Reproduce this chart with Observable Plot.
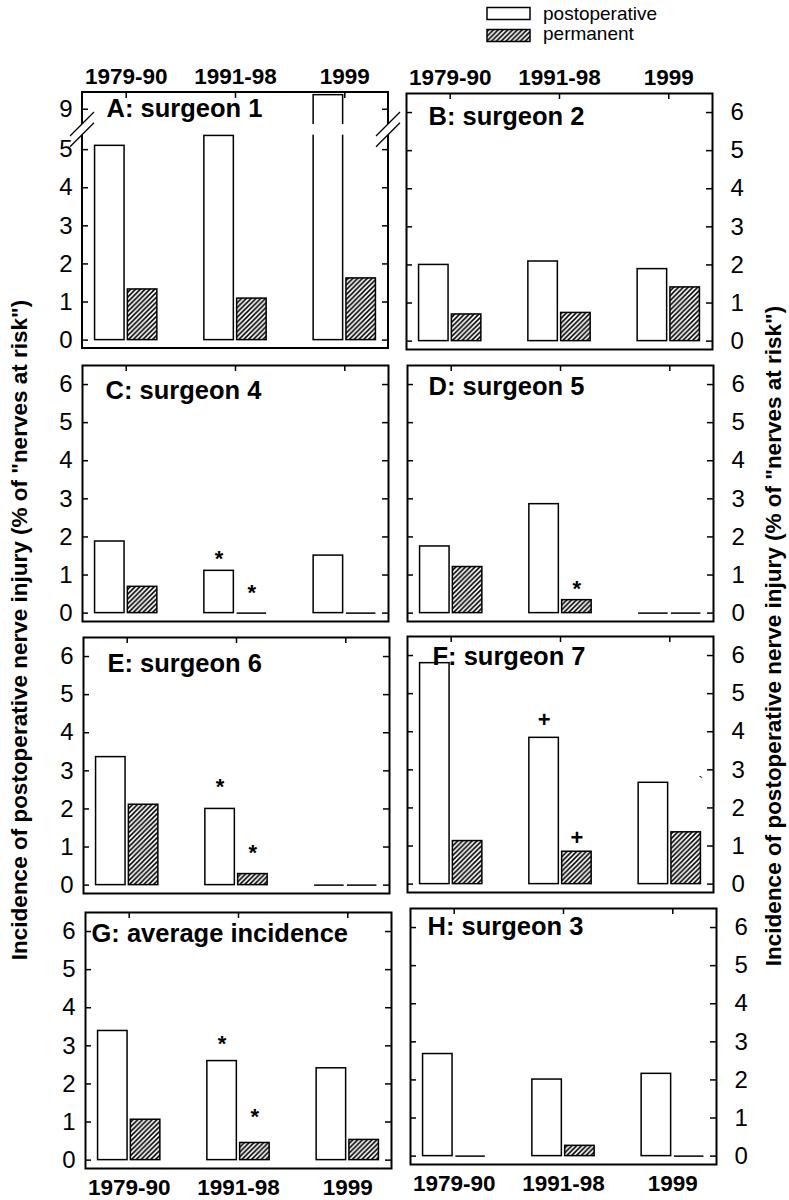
<!DOCTYPE html>
<html><head><meta charset="utf-8">
<script src="https://cdn.jsdelivr.net/npm/d3@7"></script>
<script src="https://cdn.jsdelivr.net/npm/@observablehq/plot@0.6"></script>
<style>
body{margin:0;background:#fff}
#root{position:relative;width:789px;height:1200px;background:#fff;font-family:"Liberation Sans",Arial,Helvetica,sans-serif;overflow:hidden}
.ylab{position:absolute;white-space:nowrap;font-weight:bold;font-size:22.5px;line-height:22px;color:#000;transform:translate(-50%,-50%) rotate(-90deg)}
</style></head>
<body><div id="root"></div>
<script>
// ---- data ----
const periods = ["1979-90", "1991-98", "1999"];
const seriesNames = ["postoperative", "permanent"];
const panelTitles = ["A: surgeon 1", "B: surgeon 2", "C: surgeon 4", "D: surgeon 5",
  "E: surgeon 6", "F: surgeon 7", "G: average incidence", "H: surgeon 3"];
const postoperative = [
  [5.10, 5.36, 9.37],
  [2.00, 2.09, 1.89],
  [1.88, 1.11, 1.51],
  [1.75, 2.86, 0],
  [3.36, 2.00, 0],
  [5.80, 3.84, 2.66],
  [3.39, 2.60, 2.41],
  [2.68, 2.01, 2.16]
];
const permanent = [
  [1.33, 1.09, 1.62],
  [0.70, 0.74, 1.41],
  [0.69, 0, 0],
  [1.21, 0.34, 0],
  [2.11, 0.29, 0],
  [1.13, 0.85, 1.36],
  [1.06, 0.45, 0.53],
  [0, 0.27, 0]
];
const yTicks = [0, 1, 2, 3, 4, 5, 6];
const yTicksBroken = [0, 1, 2, 3, 4, 5, 9];
const yLabel = 'Incidence of postoperative nerve injury (% of "nerves at risk")';
const markers = [
  {panel: 2, period: "1991-98", series: "postoperative", symbol: "*", value: 1.53},
  {panel: 2, period: "1991-98", series: "permanent", symbol: "*", value: 0.63},
  {panel: 3, period: "1991-98", series: "permanent", symbol: "*", value: 0.75},
  {panel: 4, period: "1991-98", series: "postoperative", symbol: "*", value: 2.68},
  {panel: 4, period: "1991-98", series: "permanent", symbol: "*", value: 0.95},
  {panel: 5, period: "1991-98", series: "postoperative", symbol: "+", value: 4.31},
  {panel: 5, period: "1991-98", series: "permanent", symbol: "+", value: 1.22},
  {panel: 6, period: "1991-98", series: "postoperative", symbol: "*", value: 3.16},
  {panel: 6, period: "1991-98", series: "permanent", symbol: "*", value: 1.24}
];
const strayMarks = [{panel: 5, period: "1999", symbol: "`", value: 2.78}];

// broken axis of panel A: values >= 9 are drawn above a gap
const NINE_AT = 6.06, BREAK_LO = 5.38, BREAK_HI = 5.66;
const brk = v => v >= 9 ? NINE_AT + (v - 9) : v;

// ---- layout ----
const framePos = [[82, 92], [406, 93], [82, 365], [407, 365], [83, 637], [407, 636], [85, 912], [410, 908]];
const titleOffset = [[24, 16], [22, 23.5], [23, 25.5], [21, 21.7], [24, 26], [25, 20.7], [6, 21], [17, 18.7]];
const W = 306, H = 256, INS = 32.8, TICK = 6;
const M = {top: 40, right: 50, bottom: 40, left: 50};
const FONT = '"Liberation Sans", Arial, Helvetica, sans-serif';

const root = document.getElementById("root");

// legend (also holds the hatch pattern)
root.insertAdjacentHTML("beforeend", `
<svg width="789" height="50" style="position:absolute;left:0;top:0" font-family='${FONT}'>
  <defs>
    <pattern id="hatch" patternUnits="userSpaceOnUse" width="4.8" height="4.8">
      <rect width="4.8" height="4.8" fill="white"/>
      <path d="M-1.2,1.2L1.2,-1.2M0,4.8L4.8,0M3.6,6L6,3.6" stroke="black" stroke-width="1.6"/>
    </pattern>
  </defs>
  <rect x="487" y="7.5" width="43" height="12" fill="white" stroke="black" stroke-width="1.5"/>
  <rect x="487" y="29.5" width="43" height="12" fill="url(#hatch)" stroke="black" stroke-width="1.5"/>
  <text x="543" y="19.5" font-size="19">${seriesNames[0]}</text>
  <text x="543" y="39.5" font-size="19">${seriesNames[1]}</text>
</svg>`);

root.insertAdjacentHTML("beforeend",
  `<div class="ylab" style="left:19.5px;top:630px"></div><div class="ylab" style="left:774px;top:636px"></div>`);
root.querySelectorAll(".ylab").forEach(d => d.textContent = yLabel);

function brokenFrame(index, scales, values, dims) {
  const ns = "http://www.w3.org/2000/svg";
  const {width, height, marginTop, marginRight, marginBottom, marginLeft} = dims;
  const x0 = marginLeft, x1 = width - marginRight, y0 = marginTop, y1 = height - marginBottom;
  const gt = scales.y(BREAK_HI), gb = scales.y(BREAK_LO);
  const g = document.createElementNS(ns, "g");
  const p1 = document.createElementNS(ns, "path");
  p1.setAttribute("d", `M${x0},${gt}V${y0}H${x1}V${gt}M${x1},${gb}V${y1}H${x0}V${gb}`);
  p1.setAttribute("fill", "none"); p1.setAttribute("stroke", "black"); p1.setAttribute("stroke-width", 2);
  const s = 12;
  const p2 = document.createElementNS(ns, "path");
  p2.setAttribute("d", [x0, x1].map(e => `M${e - s},${gt + s}L${e + s},${gt - s}M${e - s},${gb + s}L${e + s},${gb - s}`).join(""));
  p2.setAttribute("fill", "none"); p2.setAttribute("stroke", "black"); p2.setAttribute("stroke-width", 1.3);
  g.append(p1, p2);
  return g;
}

function makePanel(k) {
  const [fl, ft] = framePos[k];
  const [tdx, tdy] = titleOffset[k];
  const col = k % 2, row = Math.floor(k / 2);
  const broken = k === 0;
  const tf = broken ? brk : (v => v);
  const tickVals = broken ? yTicksBroken : yTicks;
  const tickPos = tickVals.map(tf);
  const rows = periods.flatMap((p, i) => [
    {period: p, series: "postoperative", value: postoperative[k][i]},
    {period: p, series: "permanent", value: permanent[k][i]}
  ]);
  const post = rows.filter(d => d.series === "postoperative");
  const perm = rows.filter(d => d.series === "permanent");
  const ms = markers.filter(m => m.panel === k);
  const line = {stroke: "black", strokeWidth: 1.5};

  const marks = [
    Plot.barY(post.filter(d => d.value > 0), {x: "period", y1: 0, y2: d => tf(d.value), fill: "white", ...line, insetRight: INS}),
    Plot.barY(perm.filter(d => d.value > 0), {x: "period", y1: 0, y2: d => tf(d.value), fill: "url(#hatch)", ...line, insetLeft: INS}),
    Plot.tickY(post.filter(d => d.value === 0), {x: "period", y: "value", ...line, insetRight: INS}),
    Plot.tickY(perm.filter(d => d.value === 0), {x: "period", y: "value", ...line, insetLeft: INS})
  ];
  if (broken) {
    marks.push(Plot.barY(post.filter(d => d.value >= 9), {x: "period", y1: BREAK_LO, y2: BREAK_HI, fill: "white", insetLeft: -2, insetRight: INS - 2}));
    marks.push(brokenFrame);
  } else {
    marks.push(Plot.frame({stroke: "black", strokeWidth: 2}));
  }
  for (const s of seriesNames) {
    for (const sym of ["*", "+"]) {
      marks.push(Plot.text(ms.filter(m => m.series === s && m.symbol === sym), {
        x: "period", y: d => tf(d.value), text: "symbol",
        dx: s === "postoperative" ? -16.4 : 16.4, dy: sym === "*" ? 4 : 0,
        fontSize: 22, fontWeight: "bold", fill: "black"
      }));
    }
  }
  marks.push(Plot.text(strayMarks.filter(m => m.panel === k), {x: "period", y: "value", text: "symbol", dx: 31, dy: 4, fontSize: 14, fill: "black"}));
  marks.push(
    Plot.ruleY(tickPos, {y: d => d, insetRight: W - TICK, ...line}),
    Plot.ruleY(tickPos, {y: d => d, insetLeft: W - TICK, ...line}),
    Plot.ruleX(periods, {x: d => d, insetBottom: H - TICK, ...line}),
    Plot.axisY(tickPos, {
      anchor: col === 0 ? "left" : "right", tickSize: 0, tickPadding: col === 0 ? 10 : 18,
      tickFormat: d => String(tickVals[tickPos.indexOf(d)]), fontSize: 24, label: null, fill: "black"
    }),
    Plot.text([panelTitles[k]], {
      frameAnchor: "top-left", text: d => d, dx: tdx, dy: tdy, textAnchor: "start", lineAnchor: "middle",
      fontSize: 25.5, fontWeight: "bold", fill: "black"
    })
  );
  if (row === 0) marks.push(Plot.axisX({anchor: "top", tickSize: 0, tickPadding: 9, fontSize: 22.5, fontWeight: "bold", label: null, fill: "black"}));
  if (row === 3) marks.push(Plot.axisX({anchor: "bottom", tickSize: 0, tickPadding: 11, fontSize: 22.5, fontWeight: "bold", label: null, fill: "black"}));

  const svg = Plot.plot({
    width: W + M.left + M.right,
    height: H + M.top + M.bottom,
    marginTop: M.top, marginRight: M.right, marginBottom: M.bottom, marginLeft: M.left,
    x: {type: "band", domain: periods, paddingInner: 0.43, paddingOuter: 0.115, round: false, axis: null},
    y: {domain: [-0.22, 6.5], axis: null},
    style: {fontFamily: FONT, background: "transparent", overflow: "visible", color: "black"},
    marks
  });
  svg.style.position = "absolute";
  svg.style.left = (fl - M.left) + "px";
  svg.style.top = (ft - M.top) + "px";
  svg.style.overflow = "visible";
  svg.style.background = "transparent";
  root.appendChild(svg);
}

for (let k = 0; k < panelTitles.length; ++k) makePanel(k);
</script>
</body></html>
